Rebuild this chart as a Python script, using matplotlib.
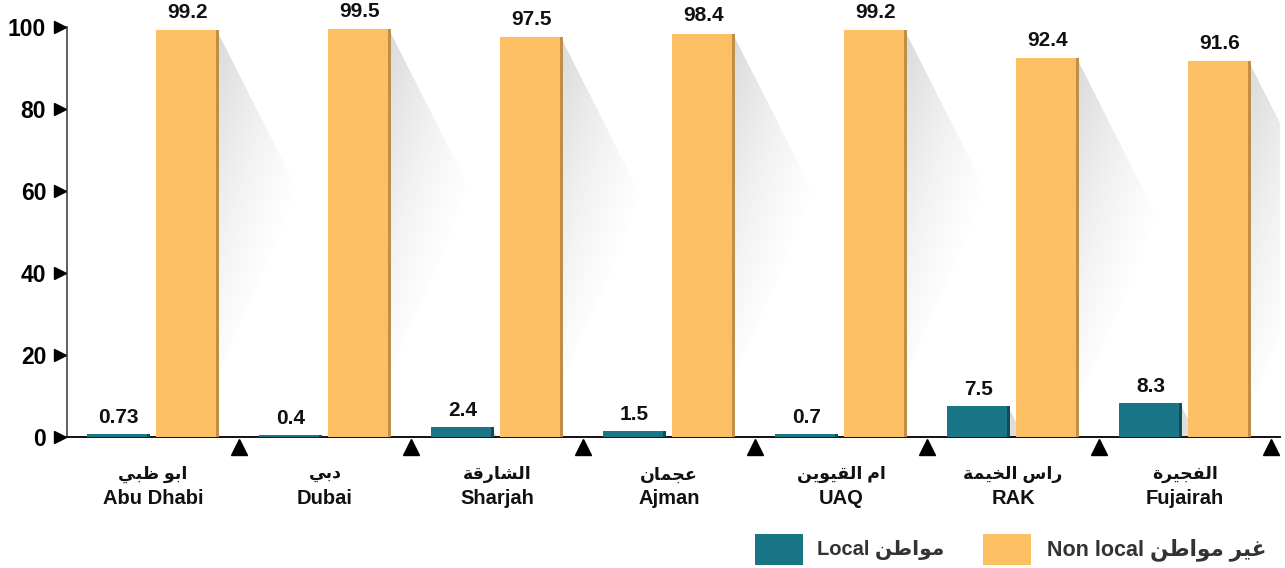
import numpy as np
import matplotlib
matplotlib.use("Agg")
import matplotlib.pyplot as plt
from matplotlib.patches import Polygon, Rectangle

plt.rcParams['font.family'] = ['Liberation Sans', 'DejaVu Sans']

# data
cat_ar = ["ابو ظبي", "دبي", "الشارقة", "عجمان", "ام القيوين", "راس الخيمة", "الفجيرة"]
cat_en = ["Abu Dhabi", "Dubai", "Sharjah", "Ajman", "UAQ", "RAK", "Fujairah"]
local = [0.73, 0.4, 2.4, 1.5, 0.7, 7.5, 8.3]
nonlocal_ = [99.2, 99.5, 97.5, 98.4, 99.2, 92.4, 91.6]
local_lbl = ["0.73", "0.4", "2.4", "1.5", "0.7", "7.5", "8.3"]
nonlocal_lbl = ["99.2", "99.5", "97.5", "98.4", "99.2", "92.4", "91.6"]
yticks = [0, 20, 40, 60, 80, 100]

# arabic letter shaping (iso, fin, ini, med)
FORMS = {
    'ا': (0xFE8D, 0xFE8E, None, None), 'ب': (0xFE8F, 0xFE90, 0xFE91, 0xFE92),
    'ة': (0xFE93, 0xFE94, None, None), 'ج': (0xFE9D, 0xFE9E, 0xFE9F, 0xFEA0),
    'خ': (0xFEA5, 0xFEA6, 0xFEA7, 0xFEA8), 'د': (0xFEA9, 0xFEAA, None, None),
    'ر': (0xFEAD, 0xFEAE, None, None), 'س': (0xFEB1, 0xFEB2, 0xFEB3, 0xFEB4),
    'ش': (0xFEB5, 0xFEB6, 0xFEB7, 0xFEB8), 'ط': (0xFEC1, 0xFEC2, 0xFEC3, 0xFEC4),
    'ظ': (0xFEC5, 0xFEC6, 0xFEC7, 0xFEC8), 'ع': (0xFEC9, 0xFECA, 0xFECB, 0xFECC),
    'غ': (0xFECD, 0xFECE, 0xFECF, 0xFED0), 'ف': (0xFED1, 0xFED2, 0xFED3, 0xFED4),
    'ق': (0xFED5, 0xFED6, 0xFED7, 0xFED8), 'ل': (0xFEDD, 0xFEDE, 0xFEDF, 0xFEE0),
    'م': (0xFEE1, 0xFEE2, 0xFEE3, 0xFEE4), 'ن': (0xFEE5, 0xFEE6, 0xFEE7, 0xFEE8),
    'و': (0xFEED, 0xFEEE, None, None), 'ي': (0xFEF1, 0xFEF2, 0xFEF3, 0xFEF4),
}

def shape(s):
    out = []
    for i, c in enumerate(s):
        if c not in FORMS:
            out.append(c)
            continue
        p = s[i-1] if i > 0 else ''
        n = s[i+1] if i < len(s)-1 else ''
        f = FORMS[c]
        prev_join = p in FORMS and FORMS[p][2] is not None
        next_join = n in FORMS and f[2] is not None
        if prev_join and next_join:
            k = 3
        elif prev_join:
            k = 1
        elif next_join:
            k = 2
        else:
            k = 0
        out.append(chr(f[k]))
    return ''.join(out[::-1])

teal = '#1a7586'
teal_edge = '#0f4d59'
orange = '#fdbf64'
orange_edge = '#bf8f48'

fig = plt.figure(figsize=(12.85, 5.68), dpi=100)
ax = fig.add_axes([67/1285, 131/568, (1280-67)/1285, 410/568])
xmax = (1280-67)/172

x = np.arange(len(cat_en))
w = 0.366
xl = x + 0.30
xn = x + 0.70

# shadows behind bars
sw, apex, low = 0.47, 39, 82
gx = np.linspace(0, 1, 80)
gy = np.linspace(0, 1, 160)
GX, GY = np.meshgrid(gx, gy)
t = np.clip(0.6 * GX + 0.85 * GY, 0, 1)
img = np.zeros((160, 80, 4))
img[..., :3] = 0.5
img[..., 3] = 0.28 * (1 - t) ** 1.3
for xc, v in list(zip(xn, nonlocal_)) + list(zip(xl, local)):
    xr = xc + w/2
    top = v - 1
    poly = Polygon([(xr, top), (xr + sw, top - apex), (xr, top - low)],
                   closed=True, transform=ax.transData, facecolor='none', edgecolor='none')
    ax.add_patch(poly)
    im = ax.imshow(img, extent=[xr, xr + sw, top - low, top], origin='upper',
                   aspect='auto', zorder=1, interpolation='bilinear')
    im.set_clip_path(poly)

ax.set_xlim(0, xmax)
ax.set_ylim(0, 100)

ax.bar(xl, local, width=w, color=teal, zorder=3)
ax.bar(xn, nonlocal_, width=w, color=orange, zorder=3)
e = 0.018
ax.bar(xl + w/2 - e/2, local, width=e, color=teal_edge, zorder=4)
ax.bar(xn + w/2 - e/2, nonlocal_, width=e, color=orange_edge, zorder=4)

for xi, v, t_ in zip(xl, local, local_lbl):
    ax.annotate(t_, (xi, v), xytext=(0, 5), textcoords='offset points',
                ha='center', va='bottom', fontsize=15, fontweight='bold', color='#111')
for xi, v, t_ in zip(xn, nonlocal_, nonlocal_lbl):
    ax.annotate(t_, (xi, v), xytext=(0, 6), textcoords='offset points',
                ha='center', va='bottom', fontsize=15, fontweight='bold', color='#111')

# axes styling
for s in ['top', 'right']:
    ax.spines[s].set_visible(False)
ax.spines['left'].set_color('#444')
ax.spines['left'].set_linewidth(1.2)
ax.spines['bottom'].set_color('#111')
ax.spines['bottom'].set_linewidth(1.4)
ax.set_xticks([])
ax.set_yticks(yticks)
ax.set_yticklabels([str(v) for v in yticks], fontsize=16.5, fontweight='bold')
ax.tick_params(axis='y', length=0, pad=15)

# triangle markers
ax.plot([-0.04] * len(yticks), yticks, linestyle='none', marker='>', color='black',
        markersize=8, clip_on=False, zorder=5)
ax.plot(x + 1, [-2.4] * len(x), linestyle='none', marker='^', color='black',
        markersize=11, clip_on=False, zorder=5)

# category labels
tr = ax.get_xaxis_transform()
for xi, a, en in zip(x + 0.5, cat_ar, cat_en):
    ax.text(xi, -0.092, shape(a), transform=tr, ha='center', va='center',
            fontsize=12.5, fontweight='bold', color='#111')
    ax.text(xi, -0.15, en, transform=tr, ha='center', va='center',
            fontsize=14.5, fontweight='bold', color='#111')

# legend
fig.patches.append(Rectangle((755/1285, 3/568), 48/1285, 31/568, transform=fig.transFigure,
                             facecolor=teal, edgecolor='none'))
fig.text(817/1285, 18.5/568, "Local " + shape("مواطن"), ha='left', va='center',
         fontsize=14.5, fontweight='bold', color='#333')
fig.patches.append(Rectangle((983/1285, 3/568), 48/1285, 31/568, transform=fig.transFigure,
                             facecolor=orange, edgecolor='none'))
fig.text(1047/1285, 18.5/568, "Non local " + shape("غير مواطن"), ha='left', va='center',
         fontsize=15.5, fontweight='bold', color='#333')

fig.savefig('out.png', dpi=100)
